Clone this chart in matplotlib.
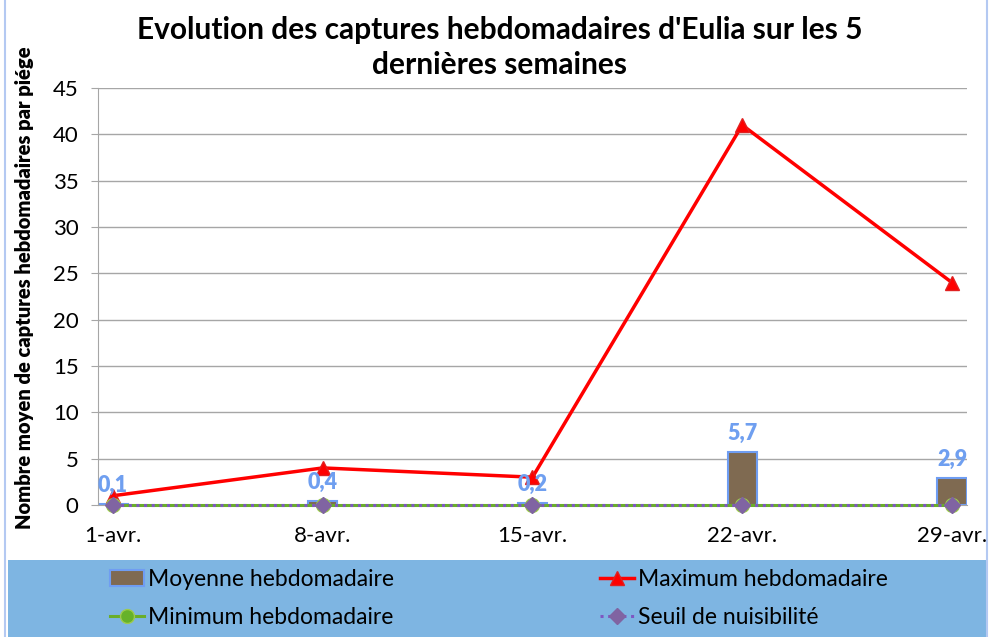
import matplotlib.pyplot as plt
import numpy as np
from matplotlib.lines import Line2D
from matplotlib.patches import Patch, Rectangle

plt.rcParams["font.family"] = ["Lato", "DejaVu Sans"]

weeks = ["1-avr.", "8-avr.", "15-avr.", "22-avr.", "29-avr."]
moyenne = [0.1, 0.4, 0.2, 5.7, 2.9]
maximum = [1, 4, 3, 41, 24]
minimum = [0, 0, 0, 0, 0]
seuil = [0, 0, 0, 0, 0]
mean_labels = ["0,1", "0,4", "0,2", "5,7", "2,9"]

BROWN = "#7F6A51"
BAR_EDGE = "#6F9DF2"
LABEL_BLUE = "#6F9FF0"
RED = "#FF0000"
GREEN = "#6AAE2A"
PURPLE = "#8064A2"
GRID = "#A6A6A6"
PANEL = "#7EB5E2"

W, H = 994, 637
fig = plt.figure(figsize=(W / 100, H / 100), dpi=100)

# legend panel + outer border
fig.patches.append(Rectangle((8 / W, 0), (988 - 8) / W, (H - 560) / H,
                             transform=fig.transFigure, facecolor=PANEL,
                             edgecolor="none", zorder=0))
fig.patches.append(Rectangle((5 / W, -0.01), (987 - 5) / W, 1.02,
                             transform=fig.transFigure, fill=False,
                             edgecolor="#B4C9F2", linewidth=1.5, zorder=0))

ax = fig.add_axes([98 / W, 1 - 505 / H, (967 - 98) / W, (505 - 88) / H])
x = np.arange(len(weeks))

ax.bar(x, moyenne, width=0.14, color=BROWN, edgecolor=BAR_EDGE, linewidth=1.5, zorder=2)
ax.plot(x, maximum, color=RED, linewidth=2.5, marker="^", markersize=10,
        markerfacecolor=RED, markeredgecolor="#E02020", zorder=3, clip_on=False)
ax.plot(x, minimum, color=GREEN, linewidth=2.2, marker="o", markersize=10,
        markerfacecolor="#66B22A", markeredgecolor="#9DCB4E", zorder=3, clip_on=False)
ax.plot(x, seuil, color="#7E57C2", linewidth=2.2, linestyle=(0, (1, 1.5)), marker="D",
        markersize=8.5, markerfacecolor=PURPLE, markeredgecolor=PURPLE, zorder=4, clip_on=False)

for xi, v, lab in zip(x, moyenne, mean_labels):
    ax.annotate(lab, (xi, v), xytext=(0, 6), textcoords="offset points",
                ha="center", va="bottom", fontsize=15.5, fontweight="heavy",
                color=LABEL_BLUE, zorder=5)

ax.set_xlim(-0.0715, 4.0715)
ax.set_ylim(0, 45)
ax.set_yticks(np.arange(0, 46, 5))
ax.set_xticks(x)
ax.set_xticklabels(weeks)
ax.tick_params(axis="x", length=0, pad=15, labelsize=16)
ax.tick_params(axis="y", length=5, color=GRID, pad=9, labelsize=16)
ax.grid(axis="y", color=GRID, linewidth=1, zorder=0)
ax.set_axisbelow(True)
for side in ["top", "right"]:
    ax.spines[side].set_visible(False)
ax.spines["left"].set_color(GRID)
ax.spines["bottom"].set_color(GRID)

fig.text(0.503, 0.926, "Evolution des captures hebdomadaires d'Eulia sur les 5\ndernières semaines",
         ha="center", va="center", fontsize=21.5, fontweight="bold", linespacing=1.3)
fig.text(24.5 / W, 1 - 288 / H, "Nombre moyen de captures hebdomadaires par piége",
         ha="center", va="center", rotation=90, fontsize=14.5, fontweight="heavy")

h_moy = Patch(facecolor=BROWN, edgecolor=BAR_EDGE, linewidth=1.5)
h_min = Line2D([], [], color=GREEN, linewidth=2.2, marker="o", markersize=10,
               markerfacecolor="#66B22A", markeredgecolor="#9DCB4E")
h_max = Line2D([], [], color=RED, linewidth=2.5, marker="^", markersize=10,
               markerfacecolor=RED, markeredgecolor="#E02020")
h_seuil = Line2D([], [], color="#7E57C2", linewidth=2.2, linestyle=(0, (1, 1.5)), marker="D",
                 markersize=8.5, markerfacecolor=PURPLE, markeredgecolor=PURPLE)

legend_y = 1 - 598.5 / H
for handles, labels, xpos in [([h_moy, h_min], ["Moyenne hebdomadaire", "Minimum hebdomadaire"], 110),
                              ([h_max, h_seuil], ["Maximum hebdomadaire", "Seuil de nuisibilité"], 600)]:
    fig.legend(handles, labels, loc="center left", bbox_to_anchor=(xpos / W, legend_y),
               frameon=False, fontsize=16.5, handlelength=1.5, handletextpad=0.15,
               borderpad=0, borderaxespad=0, labelspacing=0.72)

fig.savefig("out.png", dpi=100)
